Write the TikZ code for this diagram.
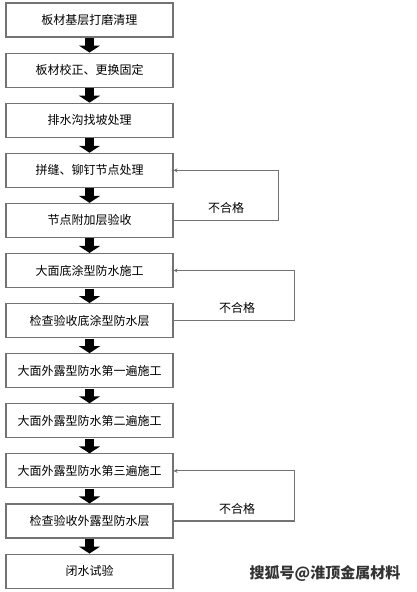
\documentclass[tikz,border=0pt]{standalone}
\usepackage{fontspec}
\setmainfont{Noto Sans CJK SC}
\usetikzlibrary{positioning, arrows.meta}

\begin{document}
\begin{tikzpicture}[x=1pt, y=1pt, node distance=15pt,
    every node/.style={font=\fontsize{12}{14}\selectfont},
    stepbox/.style={rectangle, draw=black!55, line width=1.1pt, minimum width=167pt, minimum height=34pt, inner sep=0pt},
    bigarrow/.style={line width=9pt, -{Triangle[length=7pt, width=21pt]}, shorten <=0.5pt},
    fb/.style={draw=black!55, line width=1.1pt, -{Stealth[length=4pt, width=4pt]}}]
    \useasboundingbox (0,0) rectangle (416,-592);
    \node[stepbox](s1) at (89.5,-20){板材基层打磨清理};
    \node[stepbox, below=of s1](s2){板材校正、更换固定};
    \node[stepbox, below=of s2](s3){排水沟找坡处理};
    \node[stepbox, below=of s3](s4){拼缝、铆钉节点处理};
    \node[stepbox, below=of s4](s5){节点附加层验收};
    \node[stepbox, below=of s5](s6){大面底涂型防水施工};
    \node[stepbox, below=of s6](s7){检查验收底涂型防水层};
    \node[stepbox, below=of s7](s8){大面外露型防水第一遍施工};
    \node[stepbox, below=of s8](s9){大面外露型防水第二遍施工};
    \node[stepbox, below=of s9](s10){大面外露型防水第三遍施工};
    \node[stepbox, below=of s10](s11){检查验收外露型防水层};
    \node[stepbox, below=of s11](s12){闭水试验};
    \node[font=\fontsize{15}{17}\selectfont\bfseries, text=black!80](mark) at (325,-573){搜狐号@淮顶金属材料};
    % Arrows
    \foreach \a/\b in {s1/s2, s2/s3, s3/s4, s4/s5, s5/s6, s6/s7, s7/s8, s8/s9, s9/s10, s10/s11, s11/s12}
        \draw[bigarrow] (\a.south) -- (\b.north);
    % Rework loops
    \draw[fb] (s5.east) -- node[above=3pt]{不合格} ++(105,0) |- (s4.east);
    \draw[fb] (s7.east) -- node[above=3pt, xshift=3pt]{不合格} ++(121,0) |- (s6.east);
    \draw[fb] (s11.east) -- node[above=3pt, xshift=3pt]{不合格} ++(121,0) |- (s10.east);
\end{tikzpicture}
\end{document}
